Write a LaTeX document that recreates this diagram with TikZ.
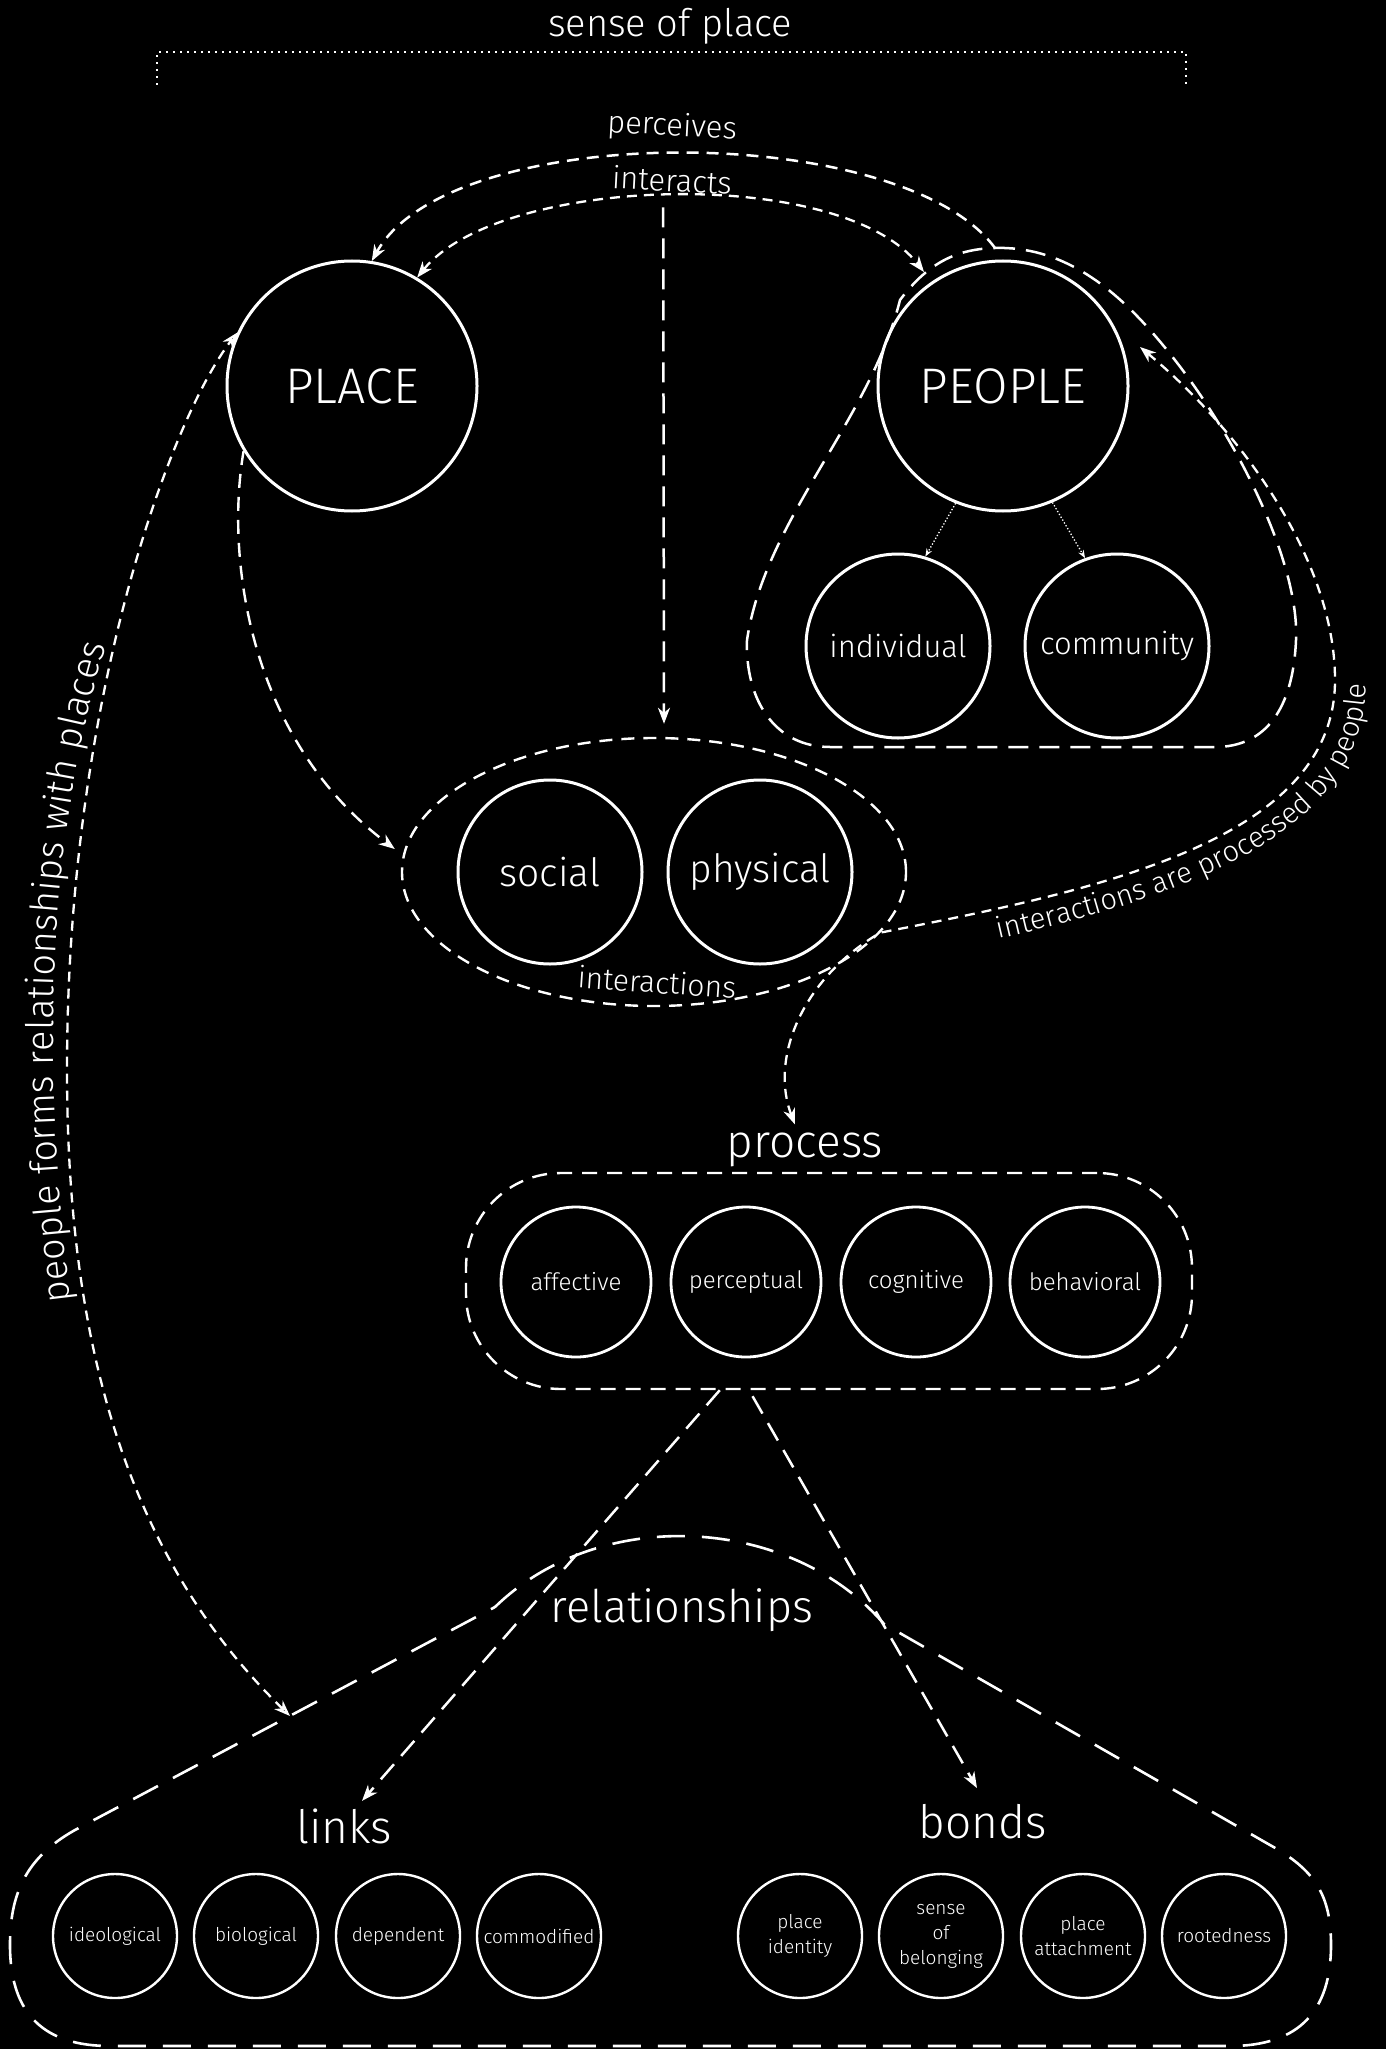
\documentclass[tikz,border=0pt]{standalone}
\usepackage{fontspec}
\setmainfont{Fira Sans}[UprightFont={* Light}, ItalicFont={* Light Italic}, BoldFont={* Regular}]
\usetikzlibrary{arrows.meta,calc,decorations.text,shapes.geometric}

\newcommand\fsz[2]{\fontsize{#1}{#2}\selectfont}

\begin{document}
\begin{tikzpicture}[x=1pt,y=-1pt,
  every node/.style={text=white},
  ring/.style={circle, draw=white, inner sep=0pt, align=center},
  bigring/.style={ring, line width=3pt, minimum size=250pt, font=\fsz{50}{54}},
  midring/.style={ring, line width=3pt, minimum size=184pt},
  procring/.style={ring, line width=2.8pt, minimum size=150pt, font=\fsz{24}{28}},
  smallring/.style={ring, line width=2.4pt, minimum size=124pt, font=\fsz{19}{25}},
  headend/.style={-{Stealth[length=16pt,width=12pt,inset=5pt]}},
  headboth/.style={{Stealth[length=16pt,width=12pt,inset=5pt]}-{Stealth[length=16pt,width=12pt,inset=5pt]}},
  dashshort/.style={draw=white, line width=2.3pt, dash pattern=on 10pt off 7pt},
  dashmid/.style={draw=white, line width=2.4pt, dash pattern=on 14pt off 9pt},
  dashlong/.style={draw=white, line width=2.5pt, dash pattern=on 20pt off 11pt},
  dashxl/.style={draw=white, line width=2.6pt, dash pattern=on 28pt off 17pt},
  curvetext/.style={decorate, decoration={text along path, text color=white, #1}},
]
% canvas
\fill[black] (0,0) rectangle (1386,2049);
\useasboundingbox (0,0) rectangle (1386,2049);

% title and its bracket
\node[font=\fsz{38}{44}] (sop) at (670,26) {sense of place};
\draw[white, line width=2.5pt, dash pattern=on 2pt off 5pt] (157,85) -- (157,52) -- (1186,52) -- (1186,85);

% place and people
\node[bigring] (place) at (352,386) {PLACE};
\node[bigring] (people) at (1003,386) {PEOPLE};
\node[midring, font=\fsz{31}{34}] (indiv) at (898,646) {individual};
\node[midring, font=\fsz{31}{34}] (commu) at (1117,646) {community};

% group outline around people
\coordinate (looptop) at (995,248);
\coordinate (loopleft) at (924,272);
\draw[dashlong] (looptop) .. controls (1060,246) and (1110,285) .. (1150,330)
  .. controls (1230,420) and (1300,560) .. (1296,640)
  .. controls (1293,710) and (1265,747) .. (1215,747)
  -- (830,747)
  .. controls (775,747) and (745,700) .. (747,640)
  .. controls (765,520) and (870,420) .. (900,300)
  .. controls (930,260) and (960,249) .. (looptop) -- cycle;

\draw[white, line width=1.3pt, dotted, -{Stealth[length=8pt,width=6pt]}] (people.248) -- (indiv.73);
\draw[white, line width=1.3pt, dotted, -{Stealth[length=8pt,width=6pt]}] (people.293) -- (commu.110);

% interactions
\node[ellipse, draw=white, line width=2.4pt, dash pattern=on 13pt off 9pt, minimum width=504pt, minimum height=268pt, inner sep=0pt] (inter) at (654,872) {};
\node[midring, font=\fsz{39}{42}] (social) at (550,872) {social};
\node[midring, font=\fsz{39}{42}] (physical) at (760,872) {physical};
\node[font=\fsz{30}{32}, rotate=-4] (interlbl) at (657,982) {interactions};

% perceives / interacts
\node[font=\fsz{31}{34}, rotate=-3] (perc) at (672,127) {perceives};
\node[font=\fsz{31}{34}, rotate=-3] (intx) at (672,180) {interacts};
\draw[dashshort, line width=2.5pt, dash pattern=on 12pt off 8pt, headend] (looptop) .. controls (900,120) and (450,120) .. (place.81);
\draw[dashshort, headboth] (place.59) .. controls (500,175) and (840,165) .. (loopleft);
\draw[dashlong, headend] ($(intx.south)+(-8,12)$) -- ($(inter.north)+(10,-13)$);
\draw[dashmid, headend] (place.211) .. controls (225,560) and (250,740) .. ($(inter.west)+(-6,-23)$);

% process
\node[font=\fsz{46}{50}] (proclbl) at (805,1150) {process};
\node[draw=white, line width=2.4pt, dash pattern=on 15pt off 10pt, rounded corners=95pt, minimum width=726pt, minimum height=216pt, inner sep=0pt] (procbox) at (829,1281) {};
\node[procring] (aff) at (576,1282) {affective};
\node[procring] (perc2) at (746,1282) {perceptual};
\node[procring] (cogn) at (916,1282) {cognitive};
\node[procring] (behav) at (1085,1282) {behavioral};

% interactions are processed by people
\coordinate (pplin) at (1140,347);
\draw[dashshort, headboth] (pplin) .. controls (1240,430) and (1335,560) .. (1335,680)
  .. controls (1335,840) and (1100,890) .. (inter.-15)
  .. controls (800,980) and (770,1060) .. ($(proclbl.north)+(-10,-5)$);
\path[curvetext={text align=right, text={|\fsz{29}{32}|interactions are processed by people}}]
  (890,962) .. controls (1110,917) and (1366,862) .. (1366,684);

% relationships
\node[font=\fsz{45}{48}] (rel) at (682,1610) {relationships};
\node[font=\fsz{46}{50}] (lnk) at (344,1826) {links};
\node[font=\fsz{46}{50}] (bnd) at (983,1822) {bonds};
\coordinate (relleft) at (290,1716);
\draw[dashxl] (495,1607) .. controls (600,1505) and (790,1515) .. (884,1624)
  -- (1270,1845) .. controls (1315,1870) and (1331,1895) .. (1331,1945)
  .. controls (1331,2010) and (1300,2046) .. (1230,2046)
  -- (110,2046) .. controls (45,2046) and (10,2015) .. (10,1945)
  .. controls (10,1895) and (25,1858) .. (75,1830) -- cycle;

\node[smallring] (ideo) at (115,1936) {ideological};
\node[smallring] (bio) at (256,1936) {biological};
\node[smallring] (dep) at (398,1936) {dependent};
\node[smallring] (comm) at (539,1936) {commodified};
\node[smallring] (pid) at (800,1936) {place\\identity};
\node[smallring] (sob) at (941,1936) {sense\\of\\belonging};
\node[smallring] (patt) at (1083,1936) {place\\attachment};
\node[smallring] (root) at (1224,1936) {rootedness};

\draw[dashlong, headend] ($(procbox.south west)!0.35!(procbox.south east)$) -- ($(lnk.north)+(18,-4)$);
\draw[dashlong, headend] ($(procbox.south west)!0.395!(procbox.south east)+(0,6)$) -- ($(bnd.north)+(-6,-13)$);

% people forms relationships with places
\draw[dashshort, headboth] (relleft) .. controls (130,1560) and (67,1350) .. (67,1070)
  .. controls (67,700) and (170,420) .. (place.155);
\path[curvetext={text align=center, text={|\fsz{38}{42}|people forms relationships with places}}]
  (80,1370) .. controls (40,1100) and (36,830) .. (128,580);
\end{tikzpicture}
\end{document}
